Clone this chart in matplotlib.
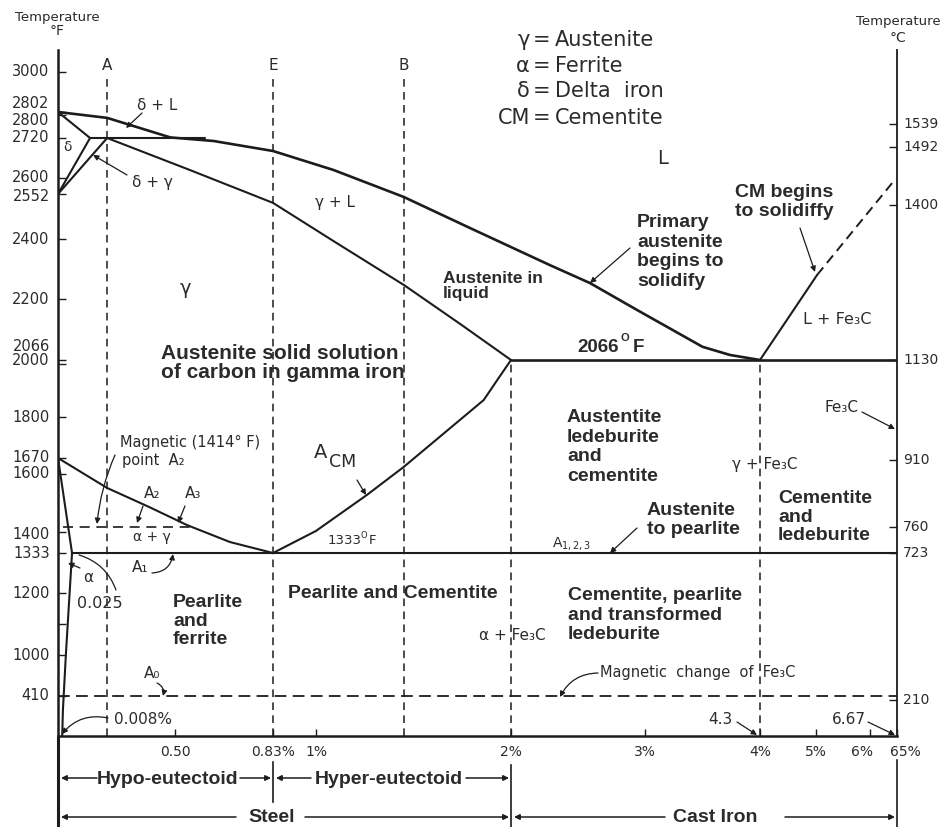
import numpy as np
import matplotlib
matplotlib.use("Agg")
import matplotlib.pyplot as plt
from matplotlib.lines import Line2D
from matplotlib.transforms import Affine2D

W, H = 947, 827
INK = "#1c1c1c"
TXT = "#2b2b2b"
BOLD = "Liberation Sans"
THIN = "DejaVu Sans"

# the drawing is schematic: both axes are piecewise-linear, so the scales are
# calibrated on the labelled values (value -> pixel in the original sheet)
carbon_knots = [-1.0, 0.0, 0.5, 0.83, 1.0, 2.0, 3.0, 4.0, 5.0, 6.0, 6.67, 8.0]
carbon_pix = [-176, 58, 175, 273, 316, 511, 645, 760, 816, 870, 897, 950]
degf_knots = [-1000, 0, 410, 1000, 1200, 1333, 1400, 1414, 1600, 1670, 1800,
              2000, 2066, 2200, 2400, 2552, 2600, 2720, 2800, 2802, 3000, 4000]
degf_pix = [834, 736, 696, 655, 593, 553, 532, 527, 474, 458, 417,
            364, 360, 299, 239, 194, 178, 138, 115, 112, 72, -188]
degc_knots = [-1000, 0, 210, 723, 760, 910, 1130, 1400, 1492, 1539, 1700]
degc_pix = [908, 736, 700, 553, 527, 460, 360, 205, 147, 124, 45]

# tick labels
f_ticks = [3000, 2802, 2800, 2720, 2600, 2552, 2400, 2200, 2066, 2000, 1800,
           1670, 1600, 1400, 1333, 1200, 1000, 410]
c_ticks = [1539, 1492, 1400, 1130, 910, 760, 723, 210]
x_ticks = [0.5, 0.83, 1.0, 2.0, 3.0, 4.0, 5.0, 6.0, 6.67]
x_labels = ["0.50", "0.83%", "1%", "2%", "3%", "4%", "5%", "6%", "65%"]

# phase boundaries (carbon %, temperature °F)
liquidus_c = [0, 0.21, 0.48, 0.63, 0.83, 1.09, 1.45, 1.79, 2.29, 2.59, 2.94, 3.50, 3.74, 4.0]
liquidus_f = [2802, 2790, 2722, 2711, 2681, 2624, 2542, 2437, 2313, 2253, 2176, 2095, 2077, 2066]
solidus_c = [0.21, 0.55, 0.83, 1.09, 1.45, 1.74, 2.0]
solidus_f = [2720, 2624, 2522, 2393, 2247, 2145, 2066]
delta_sol_c = [0, 0.137]
delta_sol_f = [2802, 2720]
peritectic_c = [0.137, 0.60]
peritectic_f = [2720, 2720]
delta_gamma1_c = [0.137, 0]
delta_gamma1_f = [2720, 2552]
delta_gamma2_c = [0.21, 0]
delta_gamma2_f = [2720, 2552]
a3_c = [0, 0.21, 0.39, 0.54, 0.685, 0.83]
a3_f = [1670, 1551, 1484, 1421, 1368, 1333]
acm_c = [0.83, 1.0, 1.26, 1.45, 1.86, 1.93, 2.0]
acm_f = [1333, 1403, 1526, 1631, 1864, 1940, 2066]
alpha_c = [0, 0.06]
alpha_f = [1670, 1333]
solvus_c = [0.06, 0.034, 0.021, 0.018]
solvus_f = [1333, 1006, 266, 0]
eutectic_c = [2.0, 6.67]
eutectic_f = [2066, 2066]
eutectoid_c = [0.06, 6.67]
eutectoid_f = [1333, 1333]
cm_liq_c = [4.0, 5.02]
cm_liq_f = [2066, 2280]
cm_ext_c = [5.02, 6.55]
cm_ext_f = [2280, 2585]
a2_c = [0.02, 0.55]
a2_f = [1414, 1414]
a0_c = [0, 6.67]
a0_f = [410, 410]
# reference compositions (A, E, B) and the 2 % / 4 % division lines
ref_c = [0.21, 0.83, 1.45]
ref_names = ["A", "E", "B"]
ref_top = 2985
div_c = [2.0, 4.0]


def x_fwd(c):
    return np.interp(c, carbon_knots, carbon_pix)


def x_inv(p):
    return np.interp(p, carbon_pix, carbon_knots)


def y_fwd(t):
    return -np.interp(t, degf_knots, degf_pix)


def y_inv(v):
    return np.interp(-np.asarray(v), degf_pix[::-1], degf_knots[::-1])


def c_fwd(t):
    return -np.interp(t, degc_knots, degc_pix)


def c_inv(v):
    return np.interp(-np.asarray(v), degc_pix[::-1], degc_knots[::-1])


fig = plt.figure(figsize=(W / 100, H / 100), dpi=100)
ax = fig.add_axes([58 / W, (H - 736) / H, (897 - 58) / W, (736 - 50) / H])
ax.set_xscale("function", functions=(x_fwd, x_inv))
ax.set_yscale("function", functions=(y_fwd, y_inv))
ax.set_xlim(0, 6.67)
ax.set_ylim(float(y_inv(-736)), float(y_inv(-50)))

tw = ax.twinx()
tw.set_yscale("function", functions=(c_fwd, c_inv))
tw.set_ylim(float(c_inv(-736)), float(c_inv(-50)))

for s in ["top", "right"]:
    ax.spines[s].set_visible(False)
for s in ["top", "left", "bottom"]:
    tw.spines[s].set_visible(False)
ax.spines["left"].set_linewidth(1.8)
ax.spines["bottom"].set_linewidth(1.8)
tw.spines["right"].set_linewidth(1.3)
for sp in list(ax.spines.values()) + list(tw.spines.values()):
    sp.set_color(INK)

ax.set_yticks(f_ticks)
ax.set_yticks([1100], minor=True)
ax.tick_params(axis="y", which="both", direction="in", length=6, width=1,
               color=INK, labelleft=False)
ax.set_xticks(x_ticks)
ax.tick_params(axis="x", direction="in", length=5, width=1, color=INK,
               labelbottom=False)
tw.set_yticks(c_ticks)
tw.tick_params(axis="y", direction="in", length=6, width=1, color=INK,
               labelright=False)

# tick labels (some are nudged apart where the values sit close together)
f_nudge = {2802: 5.8, 2800: -4.3, 2066: 9.4, 2000: 2.8, 1400: -2.0, 2552: -2.0}
for t in f_ticks:
    ax.annotate(str(t), xy=(0, t), xycoords=ax.get_yaxis_transform(),
                xytext=(-6, f_nudge.get(t, 0)), textcoords="offset points",
                ha="right", va="center", fontsize=10.5, family=THIN, color=TXT)
for t in c_ticks:
    tw.annotate(str(t), xy=(1, t), xycoords=tw.get_yaxis_transform(),
                xytext=(4.5, 0), textcoords="offset points",
                ha="left", va="center", fontsize=10, family=THIN, color=TXT)
x_nudge = {"6%": -6, "65%": 6}
for c, lab in zip(x_ticks, x_labels):
    ax.annotate(lab, xy=(c, 0), xycoords=ax.get_xaxis_transform(),
                xytext=(x_nudge.get(lab, 0), -11.5), textcoords="offset points",
                ha="center", va="center", fontsize=10, family=THIN, color=TXT)

# phase boundaries
heavy = dict(color=INK, lw=1.9, solid_joinstyle="round", solid_capstyle="round")
mid = dict(color=INK, lw=1.5, solid_joinstyle="round", solid_capstyle="round")
ax.plot(liquidus_c, liquidus_f, **heavy)
ax.plot(solidus_c, solidus_f, **mid)
ax.plot(delta_sol_c, delta_sol_f, **mid)
ax.plot(peritectic_c, peritectic_f, **mid)
ax.plot(delta_gamma1_c, delta_gamma1_f, **mid)
ax.plot(delta_gamma2_c, delta_gamma2_f, **mid)
ax.plot(a3_c, a3_f, **mid)
ax.plot(acm_c, acm_f, **mid)
ax.plot(alpha_c, alpha_f, **mid)
ax.plot(solvus_c, solvus_f, **mid)
ax.plot(eutectic_c, eutectic_f, **heavy)
ax.plot(eutectoid_c, eutectoid_f, color=INK, lw=1.5)
ax.plot(cm_liq_c, cm_liq_f, **mid)
ax.plot(cm_ext_c, cm_ext_f, color=INK, lw=1.4, ls=(0, (5, 3)))
ax.plot(a2_c, a2_f, color=INK, lw=1.2, ls=(0, (6, 4)))
ax.plot(a0_c, a0_f, color=INK, lw=1.3, ls=(0, (6.5, 3.5)), clip_on=False)
for c in ref_c:
    ax.plot([c, c], [0, ref_top], color=INK, lw=1.1, ls=(0, (5, 3.5)))
for c in div_c:
    ax.plot([c, c], [0, 2066], color=INK, lw=1.1, ls=(0, (5, 3.5)))

# everything below is placed in pixel coordinates of the 947x827 sheet
P = Affine2D().scale(1 / W, -1 / H).translate(0, 1) + fig.transFigure


def txt(x, y, s, size=11, bold=False, ha="center", va="center", **kw):
    fig.text(x, y, s, transform=P, fontsize=size, ha=ha, va=va,
             family=BOLD if bold else THIN,
             fontweight="bold" if bold else "normal",
             color=TXT, **kw)


def arrow(x0, y0, x1, y1, rad=0.0, head=True, lw=0.9):
    ax.annotate("", xy=(x1, y1), xycoords=P, xytext=(x0, y0), textcoords=P,
                arrowprops=dict(arrowstyle="-|>" if head else "-", color=INK,
                                lw=lw, mutation_scale=8, shrinkA=0, shrinkB=0,
                                connectionstyle=f"arc3,rad={rad}"))


for c, name in zip(ref_c, ref_names):
    txt(x_fwd(c), 66, name, size=11)

txt(57, 17, "Temperature", size=9.5)
txt(57, 31, "°F", size=10)
txt(898, 21, "Temperature", size=9.5)
txt(898, 38, "°C", size=10)

# key
for y, sym, word in [(40, "γ", "Austenite"), (66, "α", "Ferrite"),
                     (91, "δ", "Delta  iron"), (118, "CM", "Cementite")]:
    txt(530, y, sym, size=15, ha="right")
    txt(542, y, "=", size=15)
    txt(555, y, word, size=15, ha="left")

# region labels
LS = 1.2
txt(663, 158, "L", size=14)
txt(157, 105, "δ + L", size=11)
txt(68, 147, "δ", size=10)
txt(152, 182, "δ + γ", size=11)
txt(335, 202, "γ + L", size=11)
txt(185, 288, "γ", size=14)
txt(161, 363, "Austenite solid solution\nof carbon in gamma iron", size=15,
    bold=True, ha="left", linespacing=1.0)
txt(443, 286, "Austenite in\nliquid", size=12.5, bold=True, ha="left",
    linespacing=1.05)
txt(637, 252, "Primary\naustenite\nbegins to\nsolidify", size=14, bold=True,
    ha="left", linespacing=LS)
txt(735, 202, "CM begins\nto solidiffy", size=14, bold=True, ha="left",
    linespacing=LS)
txt(837, 320, "L + Fe₃C", size=11.5)
txt(577, 347, "2066", size=13.5, bold=True, ha="left")
txt(625, 338, "O", size=8, bold=True)
txt(633, 347, "F", size=13.5, bold=True, ha="left")
txt(567, 447, "Austentite\nledeburite\nand\ncementite", size=14, bold=True,
    ha="left", linespacing=LS)
txt(842, 407, "Fe₃C", size=11)
txt(765, 465, "γ + Fe₃C", size=11)
txt(778, 517, "Cementite\nand\nledeburite", size=14, bold=True, ha="left",
    linespacing=1.15)
txt(647, 520, "Austenite\nto pearlite", size=14, bold=True, ha="left",
    linespacing=LS)
txt(572, 543, "A$_{1,2,3}$", size=10)
txt(321, 453, "A", size=14)
txt(343, 462, "CM", size=12.5)
txt(328, 541, "1333", size=9.5, ha="left")
txt(364, 535, "O", size=6)
txt(369, 541, "F", size=9.5, ha="left")
txt(288, 593, "Pearlite and Cementite", size=14, bold=True, ha="left")
txt(173, 621, "Pearlite\nand\nferrite", size=14, bold=True, ha="left",
    linespacing=1.12)
txt(568, 615, "Cementite, pearlite\nand transformed\nledeburite", size=14,
    bold=True, ha="left", linespacing=LS)
txt(512, 635, "α + Fe₃C", size=11)
txt(600, 673, "Magnetic  change  of  Fe₃C", size=10.5, ha="left")
txt(120, 442, "Magnetic (1414° F)", size=10.5, ha="left")
txt(122, 460, "point  A₂", size=10.5, ha="left")
txt(152, 493, "A₂", size=11)
txt(193, 493, "A₃", size=11)
txt(152, 537, "α + γ", size=10)
txt(140, 568, "A₁", size=11)
txt(88, 577, "α", size=11)
txt(100, 603, "0.025", size=11.5)
txt(152, 673, "A₀", size=11)
txt(143, 720, "0.008%", size=11)
txt(720, 720, "4.3", size=11)
txt(849, 720, "6.67", size=11)

arrow(142, 113, 126, 128)
arrow(127, 175, 93, 155)
arrow(630, 248, 590, 283)
arrow(800, 228, 815, 272)
arrow(862, 412, 895, 429)
arrow(637, 528, 610, 553)
arrow(357, 480, 366, 495)
arrow(115, 455, 97, 524, rad=0.08)
arrow(143, 506, 137, 523)
arrow(185, 506, 178, 523)
arrow(152, 573, 173, 554, rad=0.4)
arrow(80, 568, 68, 563)
arrow(116, 590, 79, 555, rad=0.25, head=False)
arrow(157, 683, 163, 696, rad=-0.4)
arrow(598, 673, 560, 697, rad=0.3)
arrow(108, 718, 62, 734, rad=0.3)
arrow(737, 722, 757, 735)
arrow(868, 722, 895, 735)

# steel / cast iron ranges under the axis
for x, y0, y1, lw in [(58, 738, 827, 2.2), (273, 762, 802, 1.2),
                      (511, 765, 827, 1.2), (897, 760, 827, 1.2)]:
    fig.add_artist(Line2D([x, x], [y0, y1], transform=P, color=INK, lw=lw))
txt(168, 779, "Hypo-eutectoid", size=14, bold=True)
txt(389, 779, "Hyper-eutectoid", size=14, bold=True)
txt(272, 817, "Steel", size=14, bold=True)
txt(715, 817, "Cast Iron", size=14, bold=True)
for x0, x1, y in [(97, 61, 778), (240, 271, 778), (311, 276, 778),
                  (466, 509, 778), (236, 61, 817), (305, 509, 817),
                  (665, 514, 817), (785, 895, 817)]:
    arrow(x0, y, x1, y, lw=1.1)

fig.savefig("out.png", dpi=100)
